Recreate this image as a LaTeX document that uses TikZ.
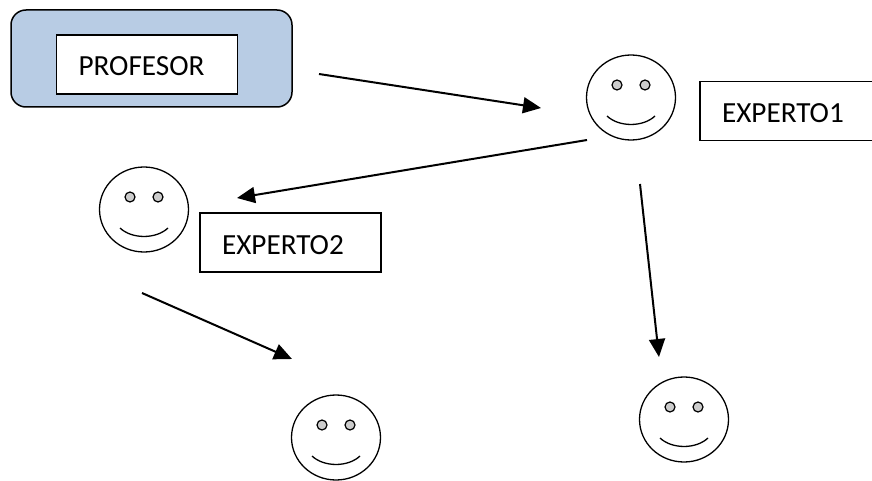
\documentclass[tikz,border=0pt]{standalone}
\usepackage{fontspec}
\setmainfont{Carlito}
\usetikzlibrary{arrows.meta,shapes.geometric}

\definecolor{fondoazul}{HTML}{B8CCE4}
\tikzset{
  fondo/.style={draw=black,fill=fondoazul,line width=1.5pt,rounded corners=15pt,minimum width=281pt,minimum height=97pt},
  caja/.style={draw=black,fill=white,line width=1.6pt,inner xsep=0pt,inner ysep=0pt,minimum height=59pt,text width=181pt,text height=26pt,text depth=3pt,align=left,font=\fontsize{29.2}{30}\selectfont,execute at begin node={\hspace*{22pt}}},
  cara/.style={draw=black,ellipse,line width=1.3pt,inner sep=0pt,minimum width=89pt,minimum height=85pt},
  ojo/.style={draw=black,fill=black!20,line width=1.2pt,circle,inner sep=0pt,minimum size=10pt},
  boca/.style={line width=1.3pt},
  flecha/.style={-{Triangle[length=18pt,width=16pt]},line width=2pt},
  pics/carita/.style={code={
    \node[cara] (-cara) at (0,0) {};
    \node[ojo] (-ojoa) at (-14,-12.5) {};
    \node[ojo] (-ojob) at (14,-12.5) {};
    \draw[boca] (-24,18.5) .. controls (-12,29.8) and (12,29.8) .. (24,18.5);
  }}
}

\begin{document}
\begin{tikzpicture}[x=1pt,y=-1pt]
\useasboundingbox (0,0) rectangle (872,481);

\node[fondo] (fondoprofesor) at (151.5,58.5) {};
\node[caja] (profesor) at (147,64.5) {PROFESOR};
\node[caja] (experto1) at (790.5,111) {EXPERTO1};
\node[caja] (experto2) at (290.5,242.5) {EXPERTO2};

\pic (caraa) at (631,97.5) {carita};
\pic (carab) at (144,209.5) {carita};
\pic (carac) at (336,437.5) {carita};
\pic (carad) at (684,419.5) {carita};

% las flechas no llegan a tocar las caras
\coordinate (salea) at (319,74);
\coordinate (llegaa) at (541,108);
\coordinate (saleb) at (587,140);
\coordinate (llegab) at (237,198);
\coordinate (salec) at (640,184);
\coordinate (llegac) at (659,357);
\coordinate (saled) at (142,293);
\coordinate (llegad) at (292,359);

\draw[flecha] (salea) -- (llegaa);
\draw[flecha] (saleb) -- (llegab);
\draw[flecha] (salec) -- (llegac);
\draw[flecha] (saled) -- (llegad);

\end{tikzpicture}
\end{document}
